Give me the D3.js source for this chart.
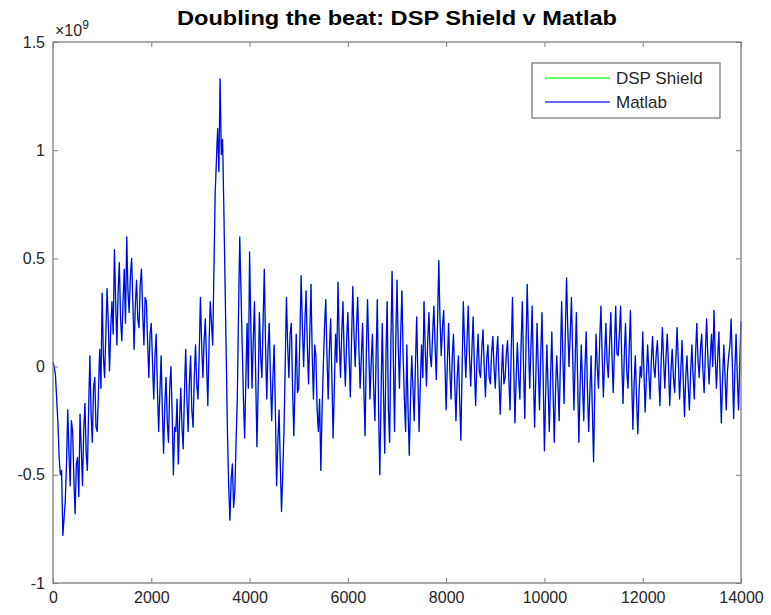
<!DOCTYPE html>
<html>
<head>
<meta charset="utf-8">
<script src="https://cdn.jsdelivr.net/npm/d3@7"></script>
<style>
  html, body { margin: 0; padding: 0; background: #fff; }
  svg { display: block; font-family: "Liberation Sans", Arial, sans-serif; }
</style>
</head>
<body>
<div id="chart"></div>
<script>
// Doubling the beat: DSP Shield v Matlab (values in units of 1e9)

const chartTitle = 'Doubling the beat: DSP Shield v Matlab';
const seriesNames = ['DSP Shield', 'Matlab'];
const xTicks = [0, 2000, 4000, 6000, 8000, 10000, 12000, 14000];
const yTicks = [-1, -0.5, 0, 0.5, 1, 1.5];
const yTickLabels = ['-1', '-0.5', '0', '0.5', '1', '1.5'];
const sampleStep = 25;

// Matlab output, every 25 samples
const matlab = [
    0.02, 0.00, -0.04, -0.15, -0.26, -0.42, -0.50, -0.48, -0.78, -0.70, -0.62, -0.45, -0.20, -0.40, -0.55, -0.25, -0.30, -0.52, -0.68, -0.45,
    -0.42, -0.60, -0.22, -0.38, -0.55, -0.30, -0.17, -0.40, -0.48, -0.20, 0.05, -0.22, -0.35, -0.10, -0.05, -0.28, -0.30, -0.12, 0.08, -0.10,
    0.34, 0.05, -0.05, 0.15, 0.36, 0.20, -0.02, 0.18, 0.30, 0.15, 0.54, 0.30, 0.10, 0.35, 0.48, 0.22, 0.12, 0.30, 0.45, 0.20,
    0.60, 0.35, 0.25, 0.42, 0.50, 0.30, 0.08, 0.28, 0.40, 0.22, 0.18, 0.38, 0.45, 0.25, 0.10, 0.32, 0.30, 0.12, -0.05, 0.15,
    0.20, 0.02, -0.15, 0.05, 0.15, -0.10, -0.30, -0.12, 0.05, -0.20, -0.40, -0.18, -0.05, -0.25, -0.35, -0.10, 0.00, -0.22, -0.50, -0.28,
    -0.30, -0.15, -0.45, -0.25, -0.10, -0.28, -0.38, -0.12, 0.08, -0.15, -0.30, -0.08, 0.05, -0.20, -0.28, -0.05, 0.10, -0.08, -0.15, 0.05,
    0.32, 0.10, -0.05, 0.12, 0.22, 0.02, -0.18, 0.10, 0.30, 0.20, 0.10, 0.45, 0.80, 0.95, 1.10, 0.90, 1.33, 0.98, 1.05, 0.75,
    0.40, 0.05, -0.30, -0.55, -0.71, -0.52, -0.45, -0.65, -0.58, -0.35, -0.15, 0.25, 0.60, 0.35, 0.10, -0.15, -0.33, -0.05, 0.20, -0.10,
    0.53, 0.20, -0.10, 0.12, 0.30, -0.05, -0.37, -0.10, 0.25, 0.05, -0.05, 0.20, 0.45, 0.10, -0.15, 0.08, 0.20, -0.05, -0.25, -0.05,
    0.10, -0.20, -0.55, -0.35, -0.20, -0.45, -0.67, -0.50, -0.30, 0.00, 0.32, 0.10, -0.05, 0.15, 0.20, -0.10, -0.32, -0.08, 0.15, -0.12,
    -0.10, 0.15, 0.42, 0.18, 0.00, 0.20, 0.35, 0.10, -0.08, 0.15, 0.38, 0.05, -0.15, 0.10, 0.05, -0.20, -0.30, -0.15, -0.48, -0.20,
    0.00, 0.18, 0.31, 0.05, -0.15, 0.08, 0.22, -0.05, -0.33, -0.10, 0.15, 0.02, 0.39, 0.12, -0.05, 0.15, 0.30, 0.05, -0.09, 0.12,
    0.25, 0.05, -0.14, 0.12, 0.37, 0.15, 0.00, 0.18, 0.32, 0.08, -0.10, 0.05, 0.20, -0.10, -0.32, 0.05, 0.31, 0.08, -0.15, 0.02,
    0.15, -0.10, -0.25, 0.05, 0.31, -0.20, -0.50, -0.15, 0.20, -0.12, -0.40, 0.05, 0.30, -0.20, -0.35, 0.10, 0.44, 0.05, -0.30, 0.12,
    0.40, 0.10, -0.10, 0.15, 0.35, 0.05, -0.15, -0.30, 0.10, -0.20, -0.41, -0.15, 0.05, -0.10, -0.25, 0.00, 0.23, -0.05, -0.30, -0.08,
    0.10, -0.05, 0.30, 0.08, -0.09, 0.12, 0.25, 0.05, 0.00, 0.15, 0.28, 0.10, -0.06, 0.20, 0.49, 0.22, 0.05, 0.18, 0.26, 0.02,
    -0.20, 0.02, 0.20, -0.02, -0.15, 0.05, 0.15, -0.08, -0.25, -0.05, 0.05, -0.15, -0.34, 0.00, 0.30, 0.10, -0.05, 0.12, 0.28, 0.05,
    -0.09, 0.08, 0.23, 0.00, -0.18, 0.02, 0.15, -0.02, -0.05, 0.08, 0.17, 0.00, -0.14, 0.03, 0.10, -0.05, -0.08, 0.06, 0.14, 0.00,
    -0.10, 0.05, 0.14, -0.05, -0.22, -0.05, 0.10, -0.08, -0.05, 0.06, 0.12, -0.05, -0.20, 0.08, 0.32, 0.00, -0.26, -0.05, 0.11, -0.05,
    -0.15, 0.10, 0.30, 0.00, -0.24, 0.10, 0.38, 0.12, -0.10, 0.08, 0.28, -0.02, -0.28, -0.05, 0.20, 0.00, -0.20, 0.05, 0.25, -0.05,
    -0.39, -0.12, 0.10, -0.10, -0.30, -0.05, 0.16, -0.10, -0.35, -0.12, 0.05, -0.08, -0.25, 0.02, 0.30, 0.05, -0.17, 0.15, 0.41, 0.18,
    0.00, 0.15, 0.32, 0.05, -0.20, 0.02, 0.25, -0.05, -0.35, -0.10, 0.10, -0.08, -0.25, 0.00, 0.16, -0.10, -0.30, -0.12, 0.05, -0.20,
    -0.44, -0.10, 0.15, 0.00, -0.10, 0.12, 0.28, 0.05, -0.14, 0.04, 0.20, 0.02, -0.05, 0.10, 0.25, 0.05, -0.12, 0.08, 0.28, 0.06,
    0.05, 0.15, 0.28, 0.02, -0.17, 0.05, 0.20, -0.02, -0.10, 0.08, 0.26, -0.05, -0.29, -0.08, 0.05, -0.15, -0.31, -0.12, 0.00, -0.05,
    0.16, -0.02, -0.21, -0.05, 0.10, -0.03, -0.15, 0.02, 0.14, 0.00, -0.05, 0.06, 0.12, -0.04, -0.18, 0.02, 0.18, 0.03, -0.10, 0.05,
    0.15, 0.00, -0.18, -0.02, 0.08, -0.05, -0.12, 0.04, 0.18, 0.02, -0.15, -0.02, 0.12, -0.06, -0.23, -0.05, 0.05, -0.08, -0.20, -0.03,
    0.10, -0.04, -0.15, 0.05, 0.20, 0.03, -0.05, 0.08, 0.15, -0.02, -0.12, 0.06, 0.22, 0.05, -0.08, 0.04, 0.15, 0.00, 0.26, 0.05,
    -0.10, 0.04, 0.16, -0.05, -0.26, -0.06, 0.10, -0.04, -0.20, -0.02, 0.05, 0.10, 0.22, 0.00, -0.24, -0.02, 0.15, -0.05, -0.20, 0.02,
    0.21
];

// DSP Shield output sits exactly under the Matlab trace
const dspShield = matlab.slice();

const width = 771;
const height = 615;
const margin = { top: 42, right: 30, bottom: 32, left: 53 };

const svg = d3.select('#chart')
    .append('svg')
    .attr('width', width)
    .attr('height', height);

const xScale = d3.scaleLinear()
    .domain([0, 14000])
    .range([margin.left, width - margin.right]);

const yScale = d3.scaleLinear()
    .domain([-1, 1.5])
    .range([height - margin.bottom, margin.top]);

const textColor = '#262626';
const axisColor = '#7d7d7d';

// Lines
const line = d3.line()
    .x((d, i) => xScale(i * sampleStep))
    .y(d => yScale(d));

svg.append('path')
    .datum(dspShield)
    .attr('fill', 'none')
    .attr('stroke', '#00ff00')
    .attr('stroke-width', 0.6)
    .attr('d', line);

svg.append('path')
    .datum(matlab)
    .attr('fill', 'none')
    .attr('stroke', '#0000ff')
    .attr('stroke-width', 1.25)
    .attr('stroke-linejoin', 'round')
    .attr('d', line);

// Axes (ticks pointing inward on all four sides)
const xAxisBottom = svg.append('g')
    .attr('transform', `translate(0,${height - margin.bottom})`)
    .call(d3.axisBottom(xScale).tickValues(xTicks).tickSizeInner(-5).tickSizeOuter(0).tickPadding(9)
        .tickFormat(d3.format('d')));

const xAxisTop = svg.append('g')
    .attr('transform', `translate(0,${margin.top})`)
    .call(d3.axisTop(xScale).tickValues(xTicks).tickSizeInner(-5).tickSizeOuter(0).tickFormat(''));

const yAxisLeft = svg.append('g')
    .attr('transform', `translate(${margin.left},0)`)
    .call(d3.axisLeft(yScale).tickValues(yTicks).tickSizeInner(-5).tickSizeOuter(0).tickPadding(8)
        .tickFormat((d, i) => yTickLabels[i]));

const yAxisRight = svg.append('g')
    .attr('transform', `translate(${width - margin.right},0)`)
    .call(d3.axisRight(yScale).tickValues(yTicks).tickSizeInner(-5).tickSizeOuter(0).tickFormat(''));

[xAxisBottom, xAxisTop, yAxisLeft, yAxisRight].forEach(g => {
    g.select('.domain').remove();
    g.selectAll('line').attr('stroke', axisColor).attr('stroke-width', 1);
    g.selectAll('text')
        .attr('fill', textColor)
        .style('font-size', '16px')
        .style('font-family', '"Liberation Sans", Arial, sans-serif');
});

// Axes box
svg.append('rect')
    .attr('x', margin.left)
    .attr('y', margin.top)
    .attr('width', width - margin.left - margin.right)
    .attr('height', height - margin.top - margin.bottom)
    .attr('fill', 'none')
    .attr('stroke', axisColor)
    .attr('stroke-width', 1.3);

// Exponent label
const expo = svg.append('text')
    .attr('x', margin.left + 2)
    .attr('y', margin.top - 6)
    .attr('fill', textColor)
    .style('font-size', '16px');
expo.append('tspan').text('\u00d710');
expo.append('tspan').attr('dy', -7).style('font-size', '12px').text('9');

// Title
svg.append('text')
    .attr('x', (margin.left + width - margin.right) / 2)
    .attr('y', 25)
    .attr('text-anchor', 'middle')
    .attr('fill', '#000')
    .attr('textLength', 440)
    .attr('lengthAdjust', 'spacingAndGlyphs')
    .style('font-size', '20px')
    .style('font-weight', 'bold')
    .text(chartTitle);

// Legend
const legend = svg.append('g')
    .attr('transform', 'translate(532, 63)');

legend.append('rect')
    .attr('width', 188)
    .attr('height', 55)
    .attr('fill', '#fff')
    .attr('stroke', axisColor)
    .attr('stroke-width', 1.3);

const legendColors = ['#00ff00', '#0000ff'];
seriesNames.forEach((name, i) => {
    legend.append('line')
        .attr('x1', 13)
        .attr('x2', 78)
        .attr('y1', 15 + i * 24)
        .attr('y2', 15 + i * 24)
        .attr('stroke', legendColors[i])
        .attr('stroke-opacity', 0.6)
        .attr('stroke-width', 2);
    legend.append('text')
        .attr('x', 84)
        .attr('y', 21 + i * 24)
        .attr('fill', textColor)
        .style('font-size', '17px')
        .text(name);
});
</script>
</body>
</html>
